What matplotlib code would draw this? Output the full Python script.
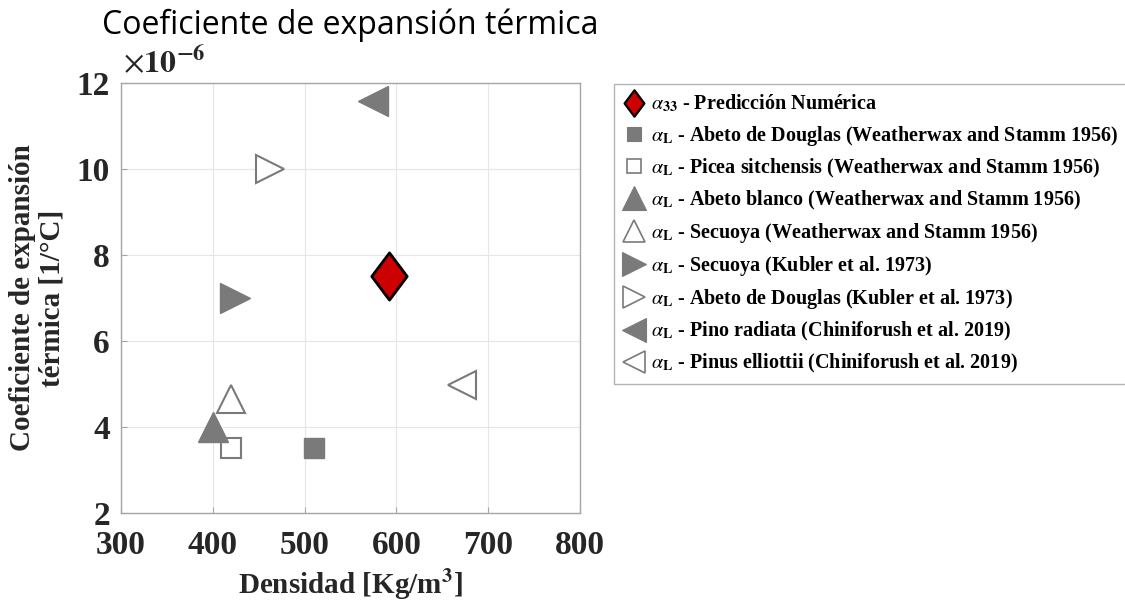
import numpy as np
import matplotlib
matplotlib.use("Agg")
import matplotlib.pyplot as plt
from matplotlib.lines import Line2D
from matplotlib.path import Path

plt.rcParams["font.family"] = "Liberation Serif"
plt.rcParams["mathtext.fontset"] = "stix"

# data: density [kg/m3], thermal expansion [x1e-6 1/C]
density = [592, 510, 420, 400, 420, 424, 462, 575, 672]
alpha = [7.52, 3.52, 3.52, 4.0, 4.65, 7.0, 10.0, 11.57, 4.98]
labels = [
    r"$\alpha_{\mathbf{33}}$ - Predicción Numérica",
    r"$\alpha_{\mathbf{L}}$ - Abeto de Douglas (Weatherwax and Stamm 1956)",
    r"$\alpha_{\mathbf{L}}$ - Picea sitchensis (Weatherwax and Stamm 1956)",
    r"$\alpha_{\mathbf{L}}$ - Abeto blanco (Weatherwax and Stamm 1956)",
    r"$\alpha_{\mathbf{L}}$ - Secuoya (Weatherwax and Stamm 1956)",
    r"$\alpha_{\mathbf{L}}$ - Secuoya (Kubler et al. 1973)",
    r"$\alpha_{\mathbf{L}}$ - Abeto de Douglas (Kubler et al. 1973)",
    r"$\alpha_{\mathbf{L}}$ - Pino radiata (Chiniforush et al. 2019)",
    r"$\alpha_{\mathbf{L}}$ - Pinus elliottii (Chiniforush et al. 2019)",
]

gray = "#7a7a7a"
red = "#cc0000"
diamond = Path([(0, 1), (0.75, 0), (0, -1), (-0.75, 0), (0, 1)],
               [Path.MOVETO, Path.LINETO, Path.LINETO, Path.LINETO, Path.CLOSEPOLY])

# marker, facecolor, edgecolor, size, legend size, edge width
styles = [
    (diamond, red, "black", 34, 19, 2.0),
    ("s", gray, gray, 15, 10, 1.0),
    ("s", "white", gray, 15, 10, 1.5),
    ("^", gray, gray, 22, 17, 1.0),
    ("^", "white", gray, 20, 16, 1.5),
    (">", gray, gray, 22, 17, 1.0),
    (">", "white", gray, 20, 16, 1.5),
    ("<", gray, gray, 22, 17, 1.0),
    ("<", "white", gray, 20, 16, 1.5),
]

fig = plt.figure(figsize=(11.25, 6.06), dpi=100)
ax = fig.add_axes([121 / 1125, 1 - 513 / 606, 459 / 1125, 430 / 606])

handles = []
order = [1, 2, 3, 4, 5, 6, 7, 8, 0]
for i in order:
    m, fc, ec, ms, lms, mew = styles[i]
    ax.plot(density[i], alpha[i], linestyle="none", marker=m, markersize=ms,
            markerfacecolor=fc, markeredgecolor=ec, markeredgewidth=mew, zorder=3)
for i in range(len(labels)):
    m, fc, ec, ms, lms, mew = styles[i]
    handles.append(Line2D([], [], linestyle="none", marker=m, markersize=lms,
                          markerfacecolor=fc, markeredgecolor=ec,
                          markeredgewidth=mew * 0.8))

ax.set_xlim(300, 800)
ax.set_ylim(2, 12)
ax.set_xticks([300, 400, 500, 600, 700, 800])
ax.set_yticks([2, 4, 6, 8, 10, 12])
ax.grid(True, color="#e6e6e6", linewidth=0.8)
ax.set_axisbelow(True)
for s in ax.spines.values():
    s.set_color("#a6a6a6")
    s.set_linewidth(1.0)
ax.tick_params(direction="in", length=4, color="#a6a6a6", labelsize=24)
ax.tick_params(axis="x", pad=12)
ax.tick_params(axis="y", pad=8)
for lab in ax.get_xticklabels() + ax.get_yticklabels():
    lab.set_fontweight("bold")
    lab.set_color("#262626")

ax.set_xlabel(r"Densidad [Kg/m$^{\mathbf{3}}$]", fontsize=21, fontweight="bold",
              color="#262626", labelpad=5)
ax.set_ylabel("Coeficiente de expansión\ntérmica [1/°C]", fontsize=21,
              fontweight="bold", color="#262626", labelpad=8, linespacing=1.12)

ax.text(0.005, 1.008, r"$\times\mathbf{10^{-6}}$", transform=ax.transAxes,
        fontsize=23, ha="left", va="bottom", color="#262626")

ax.set_title("Coeficiente de expansión térmica", fontsize=23, family="Open Sans",
             color="black", pad=35)

leg = ax.legend(handles, labels, loc="upper left",
                bbox_to_anchor=(614 / 1125, 1 - 84 / 606),
                bbox_transform=fig.transFigure, borderaxespad=0,
                prop={"family": "Liberation Serif", "weight": "bold", "size": 14.5},
                frameon=True, fancybox=False, edgecolor="#a0a0a0",
                handlelength=1.1, handletextpad=0.3, labelspacing=0.45,
                borderpad=0.45)
leg.get_frame().set_linewidth(1.0)

fig.savefig("out.png", dpi=100)
